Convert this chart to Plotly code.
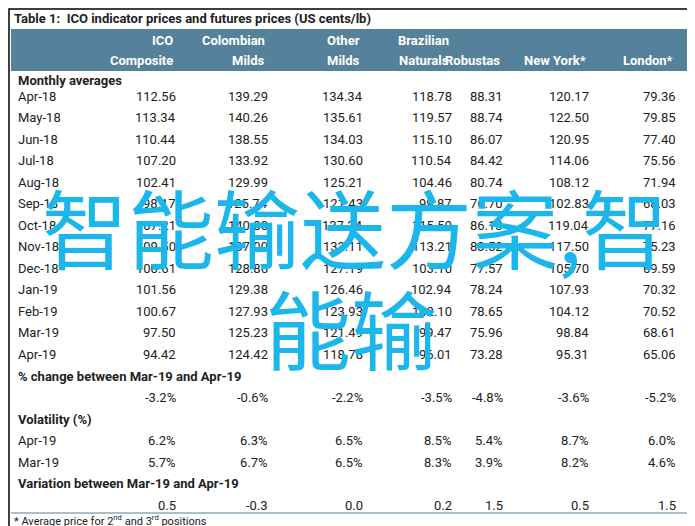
import plotly.graph_objects as go

title = "Table 1:  ICO indicator prices and futures prices (US cents/lb)"
header_top = ["ICO", "Colombian", "Other", "Brazilian", "", "", ""]
header_bot = ["Composite", "Milds", "Milds", "Naturals", "Robustas", "New York*", "London*"]

months = ["Apr-18", "May-18", "Jun-18", "Jul-18", "Aug-18", "Sep-18", "Oct-18", "Nov-18",
          "Dec-18", "Jan-19", "Feb-19", "Mar-19", "Apr-19"]
ico = ["112.56", "113.34", "110.44", "107.20", "102.41", "98.17", "107.21", "109.50", "100.61", "101.56", "100.67", "97.50", "94.42"]
colombian = ["139.29", "140.26", "138.55", "133.92", "129.99", "125.74", "140.80", "137.00", "128.86", "129.38", "127.93", "125.23", "124.42"]
other = ["134.34", "135.61", "134.03", "130.60", "125.21", "121.43", "137.34", "133.11", "127.19", "126.46", "123.93", "121.49", "118.78"]
brazilian = ["118.78", "119.57", "115.10", "110.54", "104.46", "99.87", "115.59", "113.21", "103.10", "102.94", "102.10", "99.47", "96.01"]
robustas = ["88.31", "88.74", "86.07", "84.42", "80.74", "76.70", "86.13", "83.52", "77.57", "78.24", "78.65", "75.96", "73.28"]
newyork = ["120.17", "122.50", "120.95", "114.06", "108.12", "102.83", "119.04", "117.50", "105.70", "107.93", "104.12", "98.84", "95.31"]
london = ["79.36", "79.85", "77.40", "75.56", "71.94", "68.03", "77.16", "75.23", "69.59", "70.32", "70.52", "68.61", "65.06"]

pct_change = ["-3.2%", "-0.6%", "-2.2%", "-3.5%", "-4.8%", "-3.6%", "-5.2%"]
vol_apr = ["6.2%", "6.3%", "6.5%", "8.5%", "5.4%", "8.7%", "6.0%"]
vol_mar = ["5.7%", "6.7%", "6.5%", "8.3%", "3.9%", "8.2%", "4.6%"]
variation = ["0.5", "-0.3", "0.0", "0.2", "1.5", "0.5", "1.5"]

overlay1 = "智能输送方案,智"
overlay2 = "能输"

W, H = 695, 526
col_right = [170, 262, 357, 446, 497, 583, 670]
FONT = "'Liberation Sans Narrow', 'Roboto', sans-serif"
ann = []

def txt(x, y, s, anchor="right", size=13, color="#222", bold=False, family=FONT):
    ann.append(dict(x=x, y=y, xref="x", yref="y", text=("<b>%s</b>" % s) if bold else s,
                    showarrow=False, xanchor=anchor, yanchor="middle",
                    font=dict(size=size, color=color, family=family)))

txt(4, 10, "<b>" + title + "</b>", anchor="left", size=13)
for i in range(7):
    txt(col_right[i] - 3, 32, header_top[i], anchor="right", size=13, color="white", bold=True)
    txt(col_right[i] - 3, 52, header_bot[i], anchor="right", size=13, color="white", bold=True)

txt(8, 72, "Monthly averages", anchor="left", bold=True)
cols = [ico, colombian, other, brazilian, robustas, newyork, london]
for r, m in enumerate(months):
    y = 88 + r * 21.5
    txt(8, y, m, anchor="left")
    for c in range(7):
        txt(col_right[c], y, cols[c][r])

txt(8, 368, "% change between Mar-19 and Apr-19", anchor="left", bold=True)
for c in range(7):
    txt(col_right[c], 389, pct_change[c])
txt(8, 411, "Volatility (%)", anchor="left", bold=True)
txt(8, 432, "Apr-19", anchor="left")
txt(8, 454, "Mar-19", anchor="left")
for c in range(7):
    txt(col_right[c], 432, vol_apr[c])
    txt(col_right[c], 454, vol_mar[c])
txt(8, 475, "Variation between Mar-19 and Apr-19", anchor="left", bold=True)
for c in range(7):
    txt(col_right[c], 497, variation[c])
txt(4, 512, "* Average price for 2<sup>nd</sup> and 3<sup>rd</sup> positions", anchor="left", size=11)

CJK = "'Noto Sans CJK SC'"
txt(347, 217, overlay1, anchor="center", size=86, color="#1bb6ec", family=CJK)
txt(343, 318, overlay2, anchor="center", size=86, color="#1bb6ec", family=CJK)

shapes = [
    dict(type="rect", xref="x", yref="y", x0=3, x1=680, y0=21, y1=63,
         fillcolor="#56819a", line=dict(width=0), layer="below"),
    dict(type="line", xref="x", yref="y", x0=3, x1=680, y0=505, y1=505,
         line=dict(color="#8fa9bb", width=1.5)),
    dict(type="rect", xref="x", yref="y", x0=1, x1=693, y0=1, y1=524,
         line=dict(color="black", width=1.5)),
]

fig = go.Figure()
fig.update_layout(
    width=W, height=H, margin=dict(l=0, r=0, t=0, b=0),
    paper_bgcolor="white", plot_bgcolor="white",
    xaxis=dict(range=[0, W], visible=False, fixedrange=True),
    yaxis=dict(range=[H, 0], visible=False, fixedrange=True),
    annotations=ann, shapes=shapes, showlegend=False,
)
fig.write_html("out.html")
